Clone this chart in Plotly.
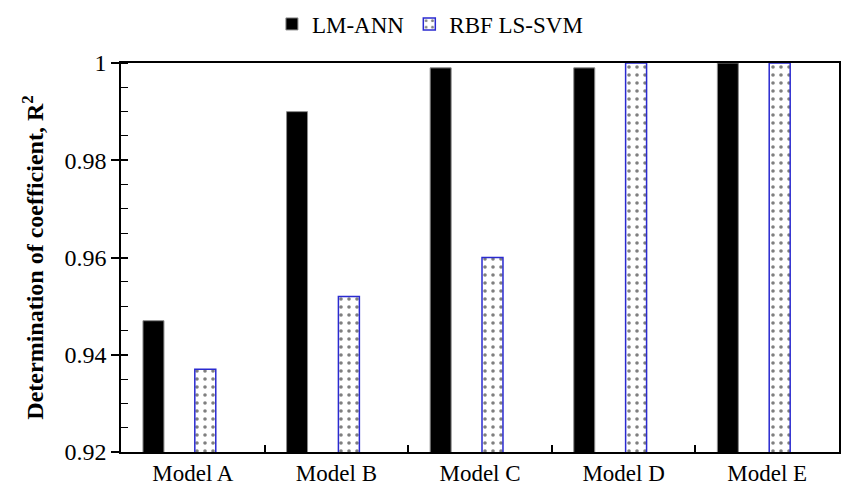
import plotly.graph_objects as go

models = ["Model A", "Model B", "Model C", "Model D", "Model E"]
lm_ann = [0.947, 0.990, 0.999, 0.999, 1.000]
rbf_lssvm = [0.937, 0.952, 0.960, 1.000, 1.000]

y_ticks = [0.92, 0.94, 0.96, 0.98, 1.0]
y_labels = ["0.92", "0.94", "0.96", "0.98", "1"]

FONT = "Liberation Serif, Times New Roman, serif"
BAR_W = 0.146

fig = go.Figure()
fig.add_trace(go.Bar(
    x=models, y=lm_ann, name="LM-ANN",
    width=BAR_W, offset=-0.347,
    marker=dict(color="black", line=dict(color="#8a8a8a", width=1)),
))
fig.add_trace(go.Bar(
    x=models, y=rbf_lssvm, name="RBF LS-SVM",
    width=BAR_W, offset=0.014,
    marker=dict(
        color="white",
        line=dict(color="#2a2ad0", width=1.5),
        pattern=dict(shape=".", fgcolor="black", bgcolor="white",
                     size=8, solidity=0.16),
    ),
))

# twin axis carrying the inner half of the major y ticks
fig.add_trace(go.Scatter(x=[None], y=[None], yaxis="y2", showlegend=False,
                         hoverinfo="skip"))

fig.update_layout(
    width=843, height=496,
    margin=dict(l=121, r=2, t=63, b=44),
    paper_bgcolor="white", plot_bgcolor="white",
    font=dict(family=FONT, size=23, color="black"),
    barmode="overlay",
    showlegend=True,
    legend=dict(orientation="h", x=0.51, xref="container", xanchor="center",
                y=0.995, yref="container", yanchor="top",
                font=dict(family=FONT, size=23),
                itemwidth=30, tracegroupgap=0),
    xaxis=dict(
        type="category",
        range=[-0.5, 4.5],
        showline=True, linecolor="black", linewidth=1.5, mirror=True,
        ticks="inside", tickson="boundaries", ticklen=7,
        tickcolor="black", tickwidth=1.5,
        showgrid=False, zeroline=False,
        tickfont=dict(family=FONT, size=23),
    ),
    yaxis=dict(
        range=[0.92, 1.0],
        tickvals=y_ticks, ticktext=y_labels,
        showline=True, linecolor="black", linewidth=1.5, mirror=True,
        ticks="outside", ticklen=8, tickcolor="black", tickwidth=1.5,
        minor=dict(dtick=0.005, ticks="inside", ticklen=7,
                   tickcolor="black", tickwidth=1.2, showgrid=False),
        showgrid=False, zeroline=False,
        tickfont=dict(family=FONT, size=24),
        title=dict(text="<b>Determination of coefficient, R<sup>2</sup></b>",
                   font=dict(family=FONT, size=24), standoff=14),
    ),
    yaxis2=dict(
        range=[0.92, 1.0], overlaying="y", side="left",
        tickvals=y_ticks, showticklabels=False,
        ticks="inside", ticklen=7, tickcolor="black", tickwidth=1.5,
        showgrid=False, zeroline=False, showline=False,
    ),
)

fig.write_html("out.html")
